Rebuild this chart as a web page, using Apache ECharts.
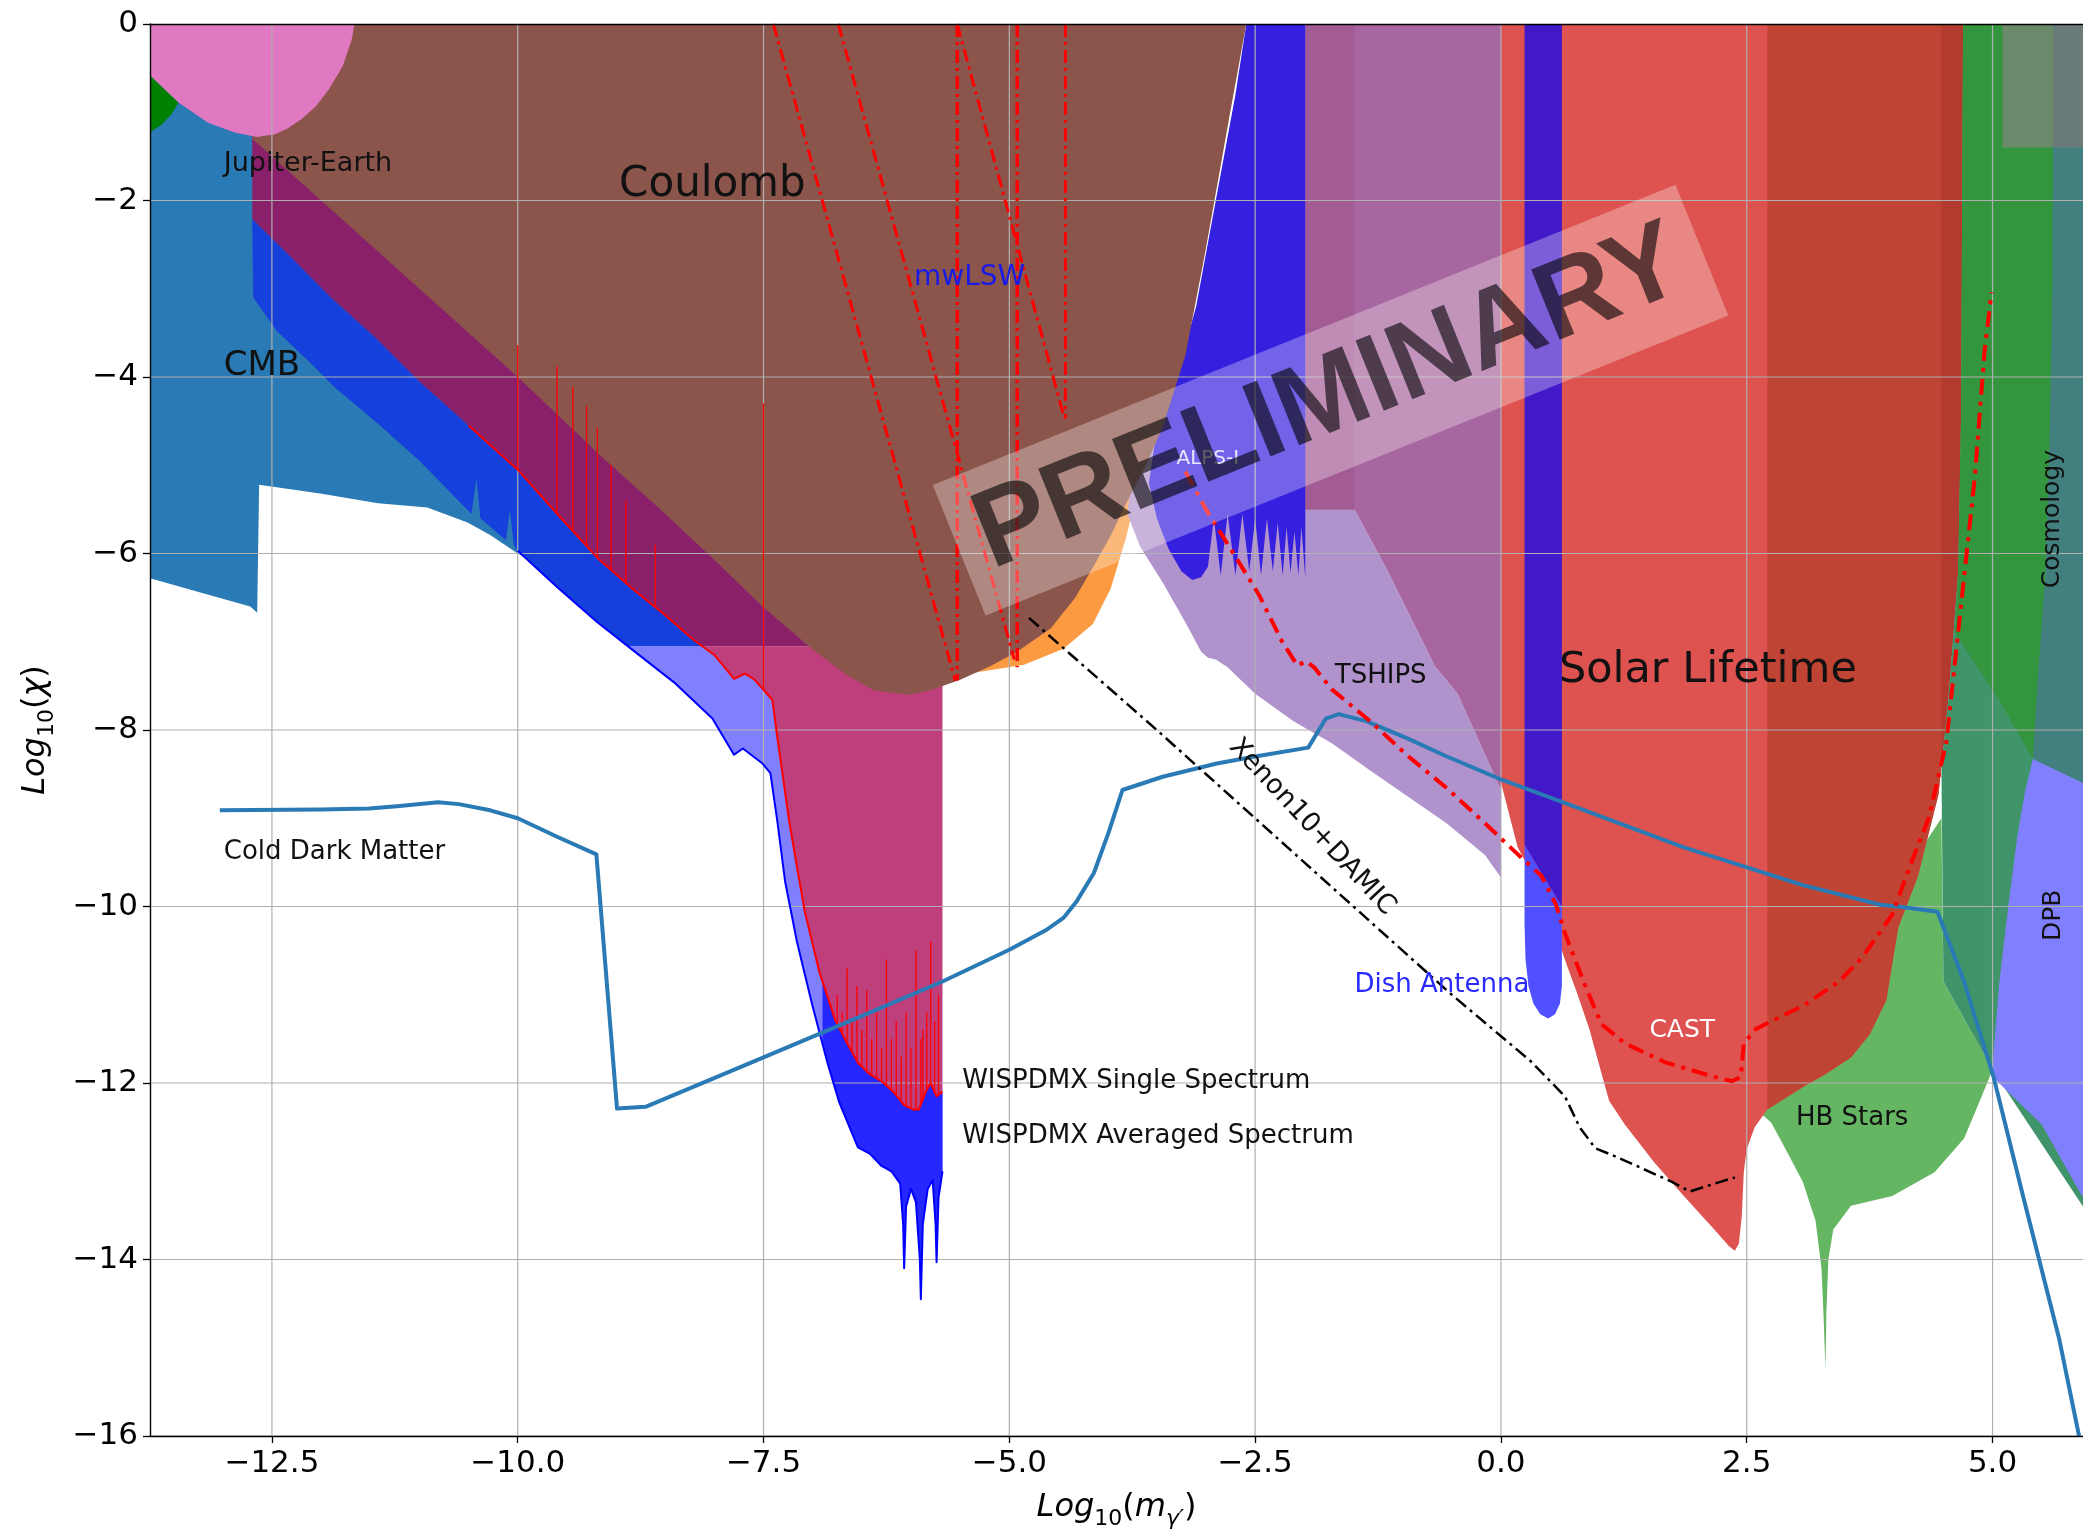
<!DOCTYPE html>
<html>
<head>
<meta charset="utf-8">
<script src="https://cdn.jsdelivr.net/npm/echarts@6/dist/echarts.min.js"></script>
<style>
html,body{margin:0;padding:0;background:#fff;}
#chart{width:2083px;height:1535px;}
</style>
</head>
<body>
<div id="chart"></div>
<script>
// Dark photon parameter space: log10 of kinetic mixing vs log10 of mass.
const FONT = "'DejaVu Sans', sans-serif";

const xTicks = [-12.5, -10, -7.5, -5, -2.5, 0, 2.5, 5];
const yTicks = [0, -2, -4, -6, -8, -10, -12, -14, -16];

// ---- Excluded regions, outlines as [log10 m, log10 chi] ----
const cmbRegion = [[-13.74,0],[-9.5,0],[-9.5,-6.3],[-10.0,-6.0],[-10.28,-5.79],[-10.51,-5.65],[-10.92,-5.48],[-11.42,-5.43],[-12.01,-5.32],[-12.63,-5.22],[-12.65,-6.67],[-12.72,-6.6],[-13.2,-6.45],[-13.74,-6.28]];

// WISPDMX single spectrum limit
const wispSingle = [[-12.70,-2.21],[-12.3,-2.65],[-11.9,-3.1],[-11.45,-3.55],[-11.0,-4.05],[-10.5,-4.55],[-10.0,-5.05],[-9.6,-5.55],[-9.19,-6.05],[-8.80,-6.43],[-8.5,-6.7],[-8.21,-6.98],[-8.0,-7.15],[-7.80,-7.42],[-7.69,-7.36],[-7.60,-7.42],[-7.51,-7.53],[-7.41,-7.66],[-7.36,-8.08],[-7.30,-8.55],[-7.24,-9.03],[-7.16,-9.55],[-7.08,-10.06],[-6.93,-10.75],[-6.77,-11.29],[-6.65,-11.55],[-6.54,-11.77],[-6.42,-11.9],[-6.30,-11.98],[-6.18,-12.1],[-6.07,-12.25],[-5.98,-12.3],[-5.92,-12.3],[-5.85,-12.1],[-5.80,-12.0],[-5.74,-12.15],[-5.68,-12.1]];
// WISPDMX averaged spectrum limit
const wispAveraged = [[-12.69,-3.1],[-12.45,-3.48],[-12.1,-3.85],[-11.88,-4.1],[-11.4,-4.55],[-11.0,-4.95],[-10.56,-5.45],[-10.47,-5.55],[-10.42,-5.15],[-10.38,-5.6],[-10.12,-5.85],[-10.08,-5.5],[-10.04,-5.9],[-10.0,-5.97],[-9.6,-6.38],[-9.19,-6.78],[-8.8,-7.12],[-8.41,-7.46],[-8.02,-7.87],[-7.80,-8.28],[-7.71,-8.21],[-7.51,-8.38],[-7.43,-8.49],[-7.36,-9.03],[-7.28,-9.72],[-7.16,-10.40],[-7.01,-11.09],[-6.85,-11.77],[-6.73,-12.22],[-6.54,-12.73],[-6.42,-12.8],[-6.30,-12.94],[-6.2,-13.0],[-6.11,-13.14],[-6.08,-13.6],[-6.07,-14.1],[-6.05,-13.4],[-6.0,-13.2],[-5.95,-13.35],[-5.91,-14.0],[-5.90,-14.45],[-5.88,-13.6],[-5.83,-13.2],[-5.78,-13.1],[-5.75,-13.6],[-5.74,-14.03],[-5.72,-13.3],[-5.68,-13.0]];
const wispSingleSpikes = [[-10.0,-3.64],[-9.6,-3.88],[-9.44,-4.11],[-9.30,-4.33],[-9.19,-4.58],[-9.05,-5.0],[-8.9,-5.4],[-8.6,-5.9],[-7.5,-4.3],[-6.75,-11.0],[-6.7,-11.2],[-6.65,-10.7],[-6.6,-11.3],[-6.55,-10.9],[-6.5,-11.4],[-6.45,-10.95],[-6.4,-11.5],[-6.35,-11.2],[-6.3,-11.6],[-6.25,-10.6],[-6.2,-11.5],[-6.15,-11.3],[-6.1,-11.7],[-6.05,-11.2],[-6.0,-11.6],[-5.95,-10.5],[-5.9,-11.5],[-5.88,-11.4],[-5.84,-11.2],[-5.8,-10.4],[-5.76,-11.3],[-5.72,-11.0]];

const coulombRegion = [[-12.70,0],[-2.59,0],[-2.76,-1.04],[-3.01,-2.60],[-3.21,-3.76],[-3.44,-4.57],[-3.62,-5.02],[-3.82,-5.45],[-3.97,-5.8],[-4.13,-6.12],[-4.33,-6.5],[-4.58,-6.85],[-4.93,-7.12],[-5.2,-7.28],[-5.5,-7.43],[-5.8,-7.55],[-6.03,-7.60],[-6.38,-7.55],[-6.65,-7.38],[-7.01,-7.08],[-7.51,-6.6],[-8.02,-6.05],[-8.6,-5.45],[-9.16,-4.89],[-10.0,-4.0],[-11.0,-3.0],[-11.9,-2.1],[-12.70,-1.3]];
const jupiterEarth = [[-13.74,0],[-11.66,0],[-11.69,-0.18],[-11.78,-0.48],[-11.92,-0.74],[-12.05,-0.93],[-12.2,-1.08],[-12.35,-1.19],[-12.47,-1.25],[-12.65,-1.28],[-12.88,-1.23],[-13.15,-1.12],[-13.45,-0.89],[-13.6,-0.73],[-13.74,-0.58]];
const cornerRegion = [[-13.74,-0.58],[-13.6,-0.73],[-13.45,-0.89],[-13.52,-1.02],[-13.62,-1.14],[-13.74,-1.23]];
const orangeRegion = [[-4.6,-4.5],[-3.62,-4.7],[-3.7,-5.3],[-3.82,-5.85],[-3.97,-6.4],[-4.15,-6.8],[-4.45,-7.08],[-4.85,-7.26],[-5.3,-7.34],[-5.7,-7.42],[-5.7,-6.0]];
const alpsRegion = [[-2.59,0],[-1.99,0],[-1.99,-6.28],[-2.03,-5.7],[-2.06,-6.25],[-2.10,-5.75],[-2.14,-6.22],[-2.18,-5.7],[-2.22,-6.25],[-2.27,-5.65],[-2.32,-6.2],[-2.38,-5.6],[-2.44,-6.25],[-2.50,-5.6],[-2.56,-6.2],[-2.63,-5.55],[-2.70,-6.25],[-2.78,-5.55],[-2.85,-6.25],[-2.92,-5.6],[-2.98,-6.15],[-3.05,-6.27],[-3.14,-6.3],[-3.25,-6.2],[-3.38,-5.95],[-3.5,-5.6],[-3.58,-5.2],[-3.5,-4.6],[-3.3,-4.0],[-3.1,-3.2],[-2.9,-2.0],[-2.7,-0.8]];
const tshipsRegion = [[-3.5,-4.5],[-1.99,-4.5],[-1.49,-5.5],[-1.15,-6.2],[-0.67,-7.28],[-0.44,-7.59],[0,-8.68],[0,-9.67],[-0.16,-9.42],[-0.55,-9.06],[-0.94,-8.76],[-1.33,-8.46],[-1.72,-8.15],[-2.11,-7.9],[-2.5,-7.59],[-2.78,-7.29],[-2.9,-7.2],[-2.98,-7.18],[-3.05,-7.11],[-3.21,-6.78],[-3.44,-6.33],[-3.67,-5.92],[-3.8,-5.55],[-3.75,-5.1]];
const mauveRegion = [[-1.99,0],[0,0],[0,-8.68],[-0.44,-7.59],[-0.67,-7.28],[-1.15,-6.2],[-1.49,-5.5],[-1.99,-5.5]];
const mauveBox = [[-1.99,0],[-1.49,0],[-1.49,-5.5],[-1.99,-5.5]];
const solarLifetime = [[0,0],[4.70,0],[4.68,-4.41],[4.65,-6.21],[4.55,-7.65],[4.45,-8.73],[4.24,-9.66],[4.04,-10.24],[3.92,-11.06],[3.75,-11.45],[3.56,-11.71],[3.3,-11.9],[3.08,-12.04],[2.85,-12.2],[2.71,-12.3],[2.58,-12.5],[2.50,-12.75],[2.47,-13.01],[2.45,-13.5],[2.42,-13.82],[2.38,-13.9],[2.32,-13.85],[2.17,-13.66],[1.86,-13.28],[1.56,-12.9],[1.26,-12.47],[1.1,-12.2],[1.0,-11.8],[0.90,-11.39],[0.78,-11.0],[0.65,-10.6],[0.5,-10.1],[0.3,-9.6],[0.17,-9.33],[0.02,-8.68],[0,-8.6]];
const dishRegion = [[0.24,-9.3],[0.62,-10.0],[0.62,-10.9],[0.6,-11.1],[0.55,-11.22],[0.48,-11.27],[0.4,-11.22],[0.33,-11.1],[0.28,-10.9],[0.25,-10.6],[0.24,-10.2]];
const indigoBand = [[0.24,0],[0.62,0],[0.62,-10.0],[0.24,-9.3]];
const hbStars = [[2.6,-11.0],[4.3,-9.3],[4.48,-9.0],[4.5,-10.85],[5.0,-11.85],[4.89,-12.15],[4.71,-12.63],[4.41,-13.01],[3.98,-13.28],[3.56,-13.39],[3.38,-13.66],[3.33,-14.0],[3.31,-14.6],[3.30,-15.24],[3.28,-14.6],[3.26,-14.1],[3.20,-13.56],[3.07,-13.12],[2.89,-12.74],[2.75,-12.45],[2.6,-12.3]];
const stellarBand = [[4.70,0],[5.92,0],[5.92,-13.4],[5.0,-11.85],[4.5,-10.85],[4.48,-8.4],[4.55,-7.65],[4.65,-6.21],[4.68,-4.41]];
const cosmology = [[4.70,0],[5.62,0],[5.61,-3.0],[5.58,-4.77],[5.54,-6.21],[5.47,-7.29],[5.41,-8.33],[5.06,-7.65],[4.62,-6.9],[4.65,-6.21],[4.68,-4.41]];
const cosmologyEdge = [[5.62,0],[5.92,0],[5.92,-8.6],[5.41,-8.33],[5.47,-7.29],[5.54,-6.21],[5.58,-4.77],[5.61,-3.0]];
const dpbRegion = [[5.41,-8.33],[5.92,-8.6],[5.92,-13.3],[5.50,-12.47],[5.0,-11.93],[5.01,-11.66],[5.07,-10.85],[5.16,-10.0],[5.25,-9.22],[5.33,-8.7]];
const cornerBoxA = [[5.10,0],[5.62,0],[5.62,-1.40],[5.10,-1.40]];
const cornerBoxB = [[5.62,0],[5.92,0],[5.92,-1.40],[5.62,-1.40]];

// ---- Curves ----
const coldDarkMatter = [[-13.03,-8.91],[-12.0,-8.90],[-11.51,-8.89],[-11.2,-8.86],[-10.81,-8.82],[-10.6,-8.84],[-10.28,-8.91],[-10.0,-9.0],[-9.60,-9.21],[-9.20,-9.41],[-8.99,-12.29],[-8.70,-12.27],[-7.5,-11.71],[-6.54,-11.26],[-5.68,-10.85],[-5.0,-10.49],[-4.63,-10.27],[-4.45,-10.13],[-4.32,-9.95],[-4.14,-9.62],[-3.99,-9.16],[-3.85,-8.68],[-3.44,-8.53],[-2.89,-8.38],[-2.50,-8.30],[-1.96,-8.20],[-1.78,-7.87],[-1.65,-7.82],[-1.37,-7.90],[-0.94,-8.10],[-0.55,-8.30],[0,-8.56],[0.49,-8.76],[1.86,-9.33],[3.08,-9.76],[3.86,-9.98],[4.04,-10.0],[4.44,-10.06],[4.71,-10.85],[5.01,-11.93],[5.31,-13.28],[5.68,-14.91],[5.88,-16.0]];
const xenonDamic = [[-4.80,-6.73],[-3.5,-8.0],[-2.0,-9.5],[-0.5,-11.0],[0.3,-11.75],[0.65,-12.15],[0.8,-12.5],[0.96,-12.74],[1.14,-12.82],[1.74,-13.12],[1.92,-13.23],[2.23,-13.12],[2.38,-13.07]];
const castProjection = [[-3.21,-5.07],[-3.0,-5.5],[-2.72,-6.0],[-2.46,-6.47],[-2.23,-6.99],[-2.07,-7.27],[-1.98,-7.22],[-1.90,-7.29],[-1.72,-7.54],[-1.33,-7.90],[-0.94,-8.30],[-0.55,-8.66],[-0.16,-9.06],[0.23,-9.47],[0.41,-9.65],[0.56,-9.98],[0.65,-10.30],[0.84,-10.85],[1.02,-11.33],[1.26,-11.55],[1.68,-11.77],[2.17,-11.93],[2.35,-11.98],[2.44,-11.93],[2.47,-11.55],[2.59,-11.39],[3.08,-11.12],[3.44,-10.85],[3.68,-10.57],[3.98,-10.09],[4.16,-9.54],[4.35,-9.0],[4.53,-8.14],[4.64,-7.0],[4.82,-5.13],[4.92,-3.69],[4.99,-3.04]];
const mwLSW1 = [[-7.40,0],[-5.55,-7.44]];
const mwLSW2 = [[-6.74,0],[-4.95,-7.2]];
const mwLSW3 = [[-5.53,0],[-5.53,-7.44]];
const mwLSW4 = [[-4.92,0],[-4.92,-7.29]];
const mwLSW5 = [[-5.53,0],[-4.44,-4.47]];
const mwLSW6 = [[-4.43,0],[-4.43,-4.47]];

// ---- helpers ----
function clipPoly(poly, axis, c, keepGreater) {
  const k = axis === 'x' ? 0 : 1;
  const inside = p => keepGreater ? p[k] >= c : p[k] <= c;
  const out = [];
  for (let i = 0; i < poly.length; i++) {
    const a = poly[i], b = poly[(i + 1) % poly.length];
    const ia = inside(a), ib = inside(b);
    if (ia) out.push(a);
    if (ia !== ib) {
      const t = (c - a[k]) / (b[k] - a[k]);
      out.push([a[0] + t * (b[0] - a[0]), a[1] + t * (b[1] - a[1])]);
    }
  }
  return out;
}
function yAt(line, x) {
  for (let i = 0; i < line.length - 1; i++) {
    const a = line[i], b = line[i + 1];
    if ((x >= a[0] && x <= b[0]) || (x <= a[0] && x >= b[0])) {
      const t = b[0] === a[0] ? 0 : (x - a[0]) / (b[0] - a[0]);
      return a[1] + t * (b[1] - a[1]);
    }
  }
  return line[line.length - 1][1];
}

function area(name, pts, color) {
  return {
    type: 'custom', name, silent: true, clip: true, z: 2,
    data: [pts[0]], encode: { x: 0, y: 1 },
    renderItem: (params, api) => ({
      type: 'polygon',
      shape: { points: pts.map(p => api.coord(p)) },
      style: { fill: color }
    })
  };
}
function curve(name, pts, color, width, dash) {
  return {
    type: 'line', name, data: pts, showSymbol: false, symbol: 'none', silent: true,
    clip: true, z: 4, animation: false,
    lineStyle: { color, width, type: dash || 'solid', cap: 'butt', join: 'round' }
  };
}

// Derived band polygons
const wispBand = wispSingle.concat(wispAveraged.slice().reverse());
const bandUpper = clipPoly(wispBand, 'y', -7.05, true);
const bandLower = clipPoly(wispBand, 'y', -7.05, false);
const bandFringe = clipPoly(wispBand, 'x', -6.9, true);
const aboveSingle = wispSingle.concat([[-5.68, 0], [-12.70, 0]]);
const crowsBand = clipPoly(aboveSingle, 'y', -7.05, true);
const singleFill = clipPoly(aboveSingle, 'y', -7.05, false);
const solarDeep = clipPoly(solarLifetime, 'x', 2.71, true);
const solarEdge = clipPoly(solarLifetime, 'x', 4.48, true);

const spikeData = wispSingleSpikes.map(s => [s[0], s[1], yAt(wispSingle, s[0])]);

const chart = echarts.init(document.getElementById('chart'), null, { renderer: 'canvas' });

const dashDot = [13, 5, 3, 5];
const richName = {
  i: { fontStyle: 'italic', fontSize: 32, fontFamily: FONT, color: '#000', lineHeight: 44, verticalAlign: 'middle' },
  p: { fontSize: 32, fontFamily: FONT, color: '#000', lineHeight: 44, verticalAlign: 'middle' },
  d: { fontSize: 22, fontFamily: FONT, color: '#000', lineHeight: 20, verticalAlign: 'bottom' },
  g: { fontSize: 22, fontStyle: 'italic', fontFamily: FONT, color: '#000', lineHeight: 20, verticalAlign: 'bottom' }
};

const option = {
  animation: false,
  backgroundColor: '#ffffff',
  grid: { left: 150, right: 0, top: 24, bottom: 94, containLabel: false },
  xAxis: [{
    type: 'value', min: -13.74, max: 5.92, z: 20,
    axisLine: { onZero: false, lineStyle: { color: '#000', width: 1.4 } },
    axisTick: { length: 7, lineStyle: { color: '#000', width: 1.3 }, customValues: xTicks },
    axisLabel: { customValues: xTicks, fontSize: 31, color: '#000', fontFamily: FONT, margin: 12,
      formatter: v => v.toFixed(1).replace('-', '\u2212') },
    splitLine: { show: false },
    name: '{i|Log}{d|10}{p|(}{i|m}{g|\u03b3\u2032}{p|)}',
    nameLocation: 'middle', nameGap: 50,
    nameTextStyle: { color: '#000', fontFamily: FONT, fontSize: 32, rich: richName }
  }, {
    type: 'value', min: -13.74, max: 5.92, position: 'top', z: 20,
    axisLine: { onZero: false, lineStyle: { color: '#000', width: 1.4 } },
    axisTick: { show: false }, axisLabel: { show: false }, splitLine: { show: false }
  }],
  yAxis: {
    type: 'value', min: -16, max: 0, interval: 2, z: 20,
    axisLine: { show: true, onZero: false, lineStyle: { color: '#000', width: 1.4 } },
    axisTick: { show: true, length: 7, lineStyle: { color: '#000', width: 1.3 } },
    axisLabel: { fontSize: 31, color: '#000', fontFamily: FONT, margin: 12,
      formatter: v => String(v).replace('-', '\u2212') },
    splitLine: { show: false },
    name: '{i|Log}{d|10}{p|(}{i|\u03c7}{p|)}',
    nameLocation: 'middle', nameGap: 92, nameRotate: 90,
    nameTextStyle: { color: '#000', fontFamily: FONT, fontSize: 32, rich: richName }
  },
  series: [
    area('CMB', cmbRegion, '#2a7ab5'),
    area('WISPDMX averaged', bandLower, '#8080ff'),
    area('WISPDMX band', bandUpper, '#1540dc'),
    area('WISPDMX fringe', bandFringe, '#2626ff'),
    area('WISPDMX single', singleFill, '#bf3f7c'),
    area('CROWS', crowsBand, '#8a1f6a'),
    area('Orange', orangeRegion, '#fb9a40'),
    area('TSHIPS', tshipsRegion, '#b092cc'),
    area('Mauve', mauveRegion, '#a866a0'),
    area('Mauve box', mauveBox, '#a35b94'),
    area('ALPS-I', alpsRegion, '#3520e0'),
    area('Coulomb', coulombRegion, '#8b554b'),
    area('Corner', cornerRegion, '#008000'),
    area('Jupiter-Earth', jupiterEarth, '#e178c2'),
    area('HB Stars', hbStars, '#64b662'),
    area('Solar Lifetime', solarLifetime, '#de5350'),
    area('Solar deep', solarDeep, '#bf4434'),
    area('Solar edge', solarEdge, '#b23a2e'),
    area('Dish Antenna', dishRegion, '#5050ff'),
    area('Indigo band', indigoBand, '#4219c8'),
    area('Stellar band', stellarBand, '#40946a'),
    area('Cosmology', cosmology, '#33963f'),
    area('Cosmology edge', cosmologyEdge, '#41807f'),
    area('DPB', dpbRegion, '#8080ff'),
    area('Corner box A', cornerBoxA, '#6b8a6b'),
    area('Corner box B', cornerBoxB, '#6a7b7a'),
    {
      type: 'custom', name: 'grid', silent: true, clip: true, z: 3,
      data: [[0, 0]], encode: { x: 0, y: 1 },
      renderItem: (params, api) => {
        const children = [];
        xTicks.forEach(v => {
          const a = api.coord([v, 0]), b = api.coord([v, -16]);
          children.push({ type: 'line', shape: { x1: a[0], y1: a[1], x2: b[0], y2: b[1] }, style: { stroke: '#b0b0b0', lineWidth: 1.2 } });
        });
        yTicks.forEach(v => {
          const a = api.coord([-13.74, v]), b = api.coord([5.92, v]);
          children.push({ type: 'line', shape: { x1: a[0], y1: a[1], x2: b[0], y2: b[1] }, style: { stroke: '#b0b0b0', lineWidth: 1.2 } });
        });
        return { type: 'group', children };
      }
    },
    {
      type: 'custom', name: 'spikes', silent: true, clip: true, z: 4,
      data: spikeData, encode: { x: 0, y: 1 },
      renderItem: (params, api) => {
        const a = api.coord([api.value(0), api.value(2)]);
        const b = api.coord([api.value(0), api.value(1)]);
        return { type: 'line', shape: { x1: a[0], y1: a[1], x2: b[0], y2: b[1] }, style: { stroke: '#ff0000', lineWidth: 1.3 } };
      }
    },
    curve('WISPDMX single line', wispSingle.filter(p => p[0] >= -10.5), '#ff0000', 2),
    curve('WISPDMX averaged line', wispAveraged.filter(p => p[0] >= -10.0), '#0000ff', 2),
    curve('Cold Dark Matter', coldDarkMatter, '#2a7ab5', 4),
    curve('Xenon10+DAMIC', xenonDamic, '#000000', 2.5, dashDot),
    curve('mwLSW a', mwLSW1, '#ff0000', 3, dashDot),
    curve('mwLSW b', mwLSW2, '#ff0000', 3, dashDot),
    curve('mwLSW c', mwLSW3, '#ff0000', 3.5, dashDot),
    curve('mwLSW d', mwLSW4, '#ff0000', 3.5, dashDot),
    curve('mwLSW e', mwLSW5, '#ff0000', 3, dashDot),
    curve('mwLSW f', mwLSW6, '#ff0000', 3, dashDot),
    curve('CAST projection', castProjection, '#ff0000', 4, [16, 7, 4, 7])
  ]
};
chart.setOption(option);

// ---- annotations ----
const annotations = [
  { text: 'Jupiter-Earth', at: [-12.99, -1.59], size: 27 },
  { text: 'Coulomb', at: [-8.02, -1.83], size: 42, align: 'center' },
  { text: 'CMB', at: [-12.99, -3.88], size: 34 },
  { text: 'mwLSW', at: [-5.97, -2.88], size: 28, color: '#1a1ae6' },
  { text: 'ALPS-I', at: [-3.30, -4.93], size: 20, color: 'rgba(255,255,255,0.85)' },
  { text: 'TSHIPS', at: [-1.69, -7.39], size: 26 },
  { text: 'Solar Lifetime', at: [0.59, -7.33], size: 43 },
  { text: 'Dish Antenna', at: [-1.49, -10.89], size: 26, color: '#2a2aff' },
  { text: 'CAST', at: [1.51, -11.40], size: 25, color: '#ffffff' },
  { text: 'HB Stars', at: [3.0, -12.4], size: 26 },
  { text: 'WISPDMX Single Spectrum', at: [-5.48, -11.98], size: 26 },
  { text: 'WISPDMX Averaged Spectrum', at: [-5.48, -12.6], size: 26 },
  { text: 'Cold Dark Matter', at: [-12.99, -9.39], size: 26 },
  { text: 'Xenon10+DAMIC', at: [-1.92, -9.10], size: 27, align: 'center', angle: -47 },
  { text: 'Cosmology', at: [5.61, -5.61], size: 25, align: 'center', angle: 90 },
  { text: 'DPB', at: [5.62, -10.1], size: 25, align: 'center', angle: 90 }
];
const toPx = p => chart.convertToPixel({ gridIndex: 0 }, p);
const graphics = annotations.map(a => {
  const p = toPx(a.at);
  return {
    type: 'text', x: p[0], y: p[1], rotation: (a.angle || 0) * Math.PI / 180, z: 100, silent: true,
    style: {
      text: a.text, fill: a.color || '#111111',
      font: a.size + 'px ' + FONT,
      textAlign: a.align || 'left', textVerticalAlign: 'middle'
    }
  };
});
// Watermark stamp across the middle of the plot
const stampCenter = toPx([-1.74, -4.26]);
const stampAngle = 22 * Math.PI / 180;
graphics.push({
  type: 'rect', x: stampCenter[0], y: stampCenter[1], rotation: stampAngle, z: 120, silent: true,
  shape: { x: -400, y: -70, width: 801, height: 141 },
  style: { fill: 'rgba(255,255,255,0.3)' }
});
graphics.push({
  type: 'text', x: stampCenter[0], y: stampCenter[1], rotation: stampAngle, z: 121, silent: true,
  style: { text: 'PRELIMINARY', font: "bold 110px 'Liberation Sans', sans-serif",
    fill: 'rgba(0,0,0,0.6)', textAlign: 'center', textVerticalAlign: 'middle' }
});
chart.setOption({ graphic: graphics });
</script>
</body>
</html>
